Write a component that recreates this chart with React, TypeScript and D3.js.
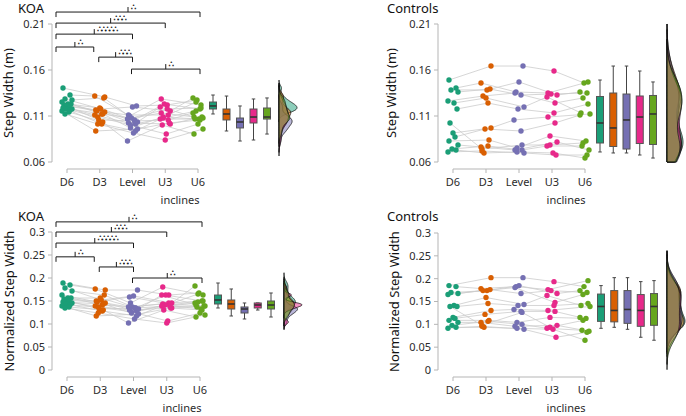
import React from "react";
import * as d3 from "d3";

const conditions = ["D6", "D3", "Level", "U3", "U6"];
const conditionColors = ["#1b9e77", "#d95f02", "#7570b3", "#e7298a", "#66a61e"];

// KOA group, step width (m); array index = subject
const koaWidthD6 = [0.1404, 0.1328, 0.1285, 0.1274, 0.1252, 0.123, 0.123, 0.122, 0.1209, 0.1198, 0.1187, 0.1176, 0.1176, 0.1165, 0.1154, 0.1143, 0.1122];
const koaWidthD3 = [0.1307, 0.1317, 0.1176, 0.1296, 0.1154, 0.1187, 0.1122, 0.1165, 0.1143, 0.1057, 0.1122, 0.1111, 0.1013, 0.1089, 0.0937, 0.1035, 0.1013];
const koaWidthLevel = [0.1209, 0.11, 0.1198, 0.1057, 0.1111, 0.1035, 0.1078, 0.1013, 0.1067, 0.1046, 0.097, 0.1024, 0.0937, 0.1002, 0.0959, 0.0828, 0.0915];
const koaWidthU3 = [0.122, 0.1285, 0.1154, 0.123, 0.1111, 0.1198, 0.1176, 0.1078, 0.1133, 0.1057, 0.1089, 0.1013, 0.1067, 0.0904, 0.1024, 0.1002, 0.0839];
const koaWidthU6 = [0.1274, 0.122, 0.1296, 0.1176, 0.1252, 0.1089, 0.1187, 0.1154, 0.1078, 0.1133, 0.1067, 0.1089, 0.1067, 0.1013, 0.1057, 0.0904, 0.0959];

// KOA group, normalized step width
const koaNormD6 = [0.1891, 0.1848, 0.1783, 0.1717, 0.163, 0.1565, 0.1565, 0.1543, 0.1522, 0.15, 0.1478, 0.1457, 0.1435, 0.1413, 0.1391, 0.137, 0.1348];
const koaNormD3 = [0.1739, 0.1761, 0.1522, 0.163, 0.1478, 0.1565, 0.1413, 0.15, 0.1457, 0.1326, 0.1435, 0.1391, 0.1283, 0.137, 0.1174, 0.1304, 0.1239];
const koaNormLevel = [0.1739, 0.1457, 0.1609, 0.1348, 0.1587, 0.1326, 0.137, 0.1283, 0.137, 0.1348, 0.1239, 0.1304, 0.1174, 0.1261, 0.1217, 0.1022, 0.1109];
const koaNormU3 = [0.163, 0.1804, 0.1457, 0.163, 0.1435, 0.163, 0.1457, 0.1413, 0.1435, 0.1391, 0.1413, 0.1348, 0.1391, 0.1065, 0.1348, 0.1304, 0.1022];
const koaNormU6 = [0.1674, 0.163, 0.1826, 0.15, 0.1652, 0.1413, 0.15, 0.1478, 0.1391, 0.1457, 0.1326, 0.1391, 0.137, 0.1239, 0.1304, 0.1152, 0.1196];

// Control group, step width (m)
const ctrlWidthD6 = [0.1491, 0.1404, 0.1383, 0.1361, 0.1263, 0.1241, 0.1176, 0.1024, 0.0915, 0.0872, 0.0828, 0.0785, 0.0741, 0.073, 0.0709];
const ctrlWidthD3 = [0.1643, 0.1459, 0.1383, 0.1393, 0.1317, 0.1296, 0.1241, 0.0741, 0.097, 0.0959, 0.0839, 0.0763, 0.0774, 0.0698, 0.072];
const ctrlWidthLevel = [0.1643, 0.1361, 0.147, 0.1328, 0.135, 0.1198, 0.1176, 0.0785, 0.1057, 0.0937, 0.0752, 0.073, 0.073, 0.0709, 0.0698];
const ctrlWidthU3 = [0.1589, 0.135, 0.1328, 0.1339, 0.1241, 0.1307, 0.1133, 0.0785, 0.1089, 0.1024, 0.0883, 0.0817, 0.0774, 0.0698, 0.0676];
const ctrlWidthU6 = [0.1459, 0.147, 0.1361, 0.135, 0.1296, 0.1133, 0.123, 0.0807, 0.1122, 0.1111, 0.0828, 0.073, 0.0774, 0.0643, 0.0676];

// Control group, normalized step width
const ctrlNormD6 = [0.1848, 0.1826, 0.1696, 0.1674, 0.1652, 0.1413, 0.1391, 0.1391, 0.1152, 0.113, 0.1087, 0.1043, 0.0978, 0.0935, 0.0913];
const ctrlNormD3 = [0.2022, 0.1783, 0.1739, 0.1761, 0.1739, 0.1587, 0.1457, 0.0978, 0.1304, 0.1217, 0.1087, 0.1043, 0.1065, 0.0935, 0.0957];
const ctrlNormLevel = [0.2022, 0.1826, 0.1848, 0.1674, 0.1804, 0.1435, 0.1413, 0.1261, 0.1326, 0.1283, 0.1043, 0.0957, 0.1, 0.0913, 0.0891];
const ctrlNormU3 = [0.1935, 0.1761, 0.1674, 0.1739, 0.1478, 0.163, 0.1413, 0.0935, 0.1304, 0.1283, 0.1152, 0.0978, 0.0913, 0.0891, 0.0717];
const ctrlNormU6 = [0.1826, 0.1957, 0.1739, 0.1696, 0.1652, 0.1413, 0.1457, 0.1087, 0.1391, 0.1152, 0.113, 0.0848, 0.087, 0.0652, 0.0826];

// Axis ticks
const widthTicks = [0.06, 0.11, 0.16, 0.21];
const widthTickLabels = ["0.06", "0.11", "0.16", "0.21"];
const normTicks = [0, 0.05, 0.1, 0.15, 0.2, 0.25, 0.3];
const normTickLabels = ["0", "0.05", "0.1", "0.15", "0.2", "0.25", "0.3"];

// Pairwise comparisons shown for the KOA group
const koaBracketPairs = [["D6", "U6"], ["D6", "U3"], ["D6", "Level"], ["D6", "D3"], ["D3", "Level"], ["Level", "U6"]];
const koaBracketLabels = ["∴", "∴∴∴", "∴∴∴∴∴", "∴", "∴∴∴", "∴"];
const koaWidthBracketY = [0.223, 0.211, 0.199, 0.185, 0.174, 0.161];
const koaNormBracketY = [0.322, 0.3, 0.276, 0.246, 0.224, 0.2];

// Horizontal jitter pattern for the dots (pixels)
const JITTER = [-4, 3, -2, 5, -5, 1, 4, -3, 0, 2, -4, 5, -1, 3, -5, 2, -2];
// Bracket end adjustments per condition (pixels)
const BRACKET_START: Record<string, number> = { D6: -11, D3: -1, Level: -1 };
const BRACKET_END: Record<string, number> = { D3: -6, Level: 0, U3: 0, U6: 2 };

const FONT = "'Noto Sans', 'Open Sans', sans-serif";
const AXIS_GREY = "#b5b5b5";
const TEXT_COL = "#2b2b2b";

type Layout = {
  yTop: number; yBottom: number; axisX: number; catL: number; catR: number; xAxisY: number;
  box0: number; boxStep: number; densBase: number; densW: number;
  titleX: number; titleY: number; yTitleX: number; tickLabelY: number; inclinesX: number; inclinesY: number;
};

type PanelCfg = {
  title: string; yLabel: string; series: number[][]; domain: [number, number];
  ticks: number[]; tickLabels: string[]; L: Layout;
  brackets?: { pairs: string[][]; labels: string[]; ys: number[] };
};

function kde(values: number[], domain: [number, number]) {
  const s = [...values].sort(d3.ascending);
  const sd = d3.deviation(s) as number;
  const iqr = (d3.quantile(s, 0.75) as number) - (d3.quantile(s, 0.25) as number);
  const bw = 0.9 * Math.min(sd, iqr / 1.34) * Math.pow(s.length, -0.2);
  const from = Math.max(domain[0], s[0] - 3 * bw);
  const to = Math.min(domain[1], s[s.length - 1] + 3 * bw);
  const n = 160;
  return d3.range(n + 1).map((i) => {
    const v = from + ((to - from) * i) / n;
    const d = d3.mean(s, (x) => Math.exp(-0.5 * ((v - x) / bw) ** 2) / Math.sqrt(2 * Math.PI)) as number;
    return [v, d / bw] as [number, number];
  });
}

function boxStats(values: number[]) {
  const s = [...values].sort(d3.ascending);
  const q1 = d3.quantile(s, 0.25) as number;
  const med = d3.quantile(s, 0.5) as number;
  const q3 = d3.quantile(s, 0.75) as number;
  const iqr = q3 - q1;
  const lo = d3.min(s.filter((v) => v >= q1 - 1.5 * iqr)) as number;
  const hi = d3.max(s.filter((v) => v <= q3 + 1.5 * iqr)) as number;
  return { q1, med, q3, lo, hi };
}

function Panel({ cfg }: { cfg: PanelCfg }) {
  const { series, domain, ticks, tickLabels, L } = cfg;
  const y = d3.scaleLinear().domain(domain).range([L.yBottom, L.yTop]);
  const x = d3.scalePoint<string>().domain(conditions).range([L.catL, L.catR]);
  const nSubj = series[0].length;
  const px = (k: number, i: number) => (x(conditions[k]) as number) + JITTER[(i + 3 * k) % JITTER.length];
  const line = d3.line();
  const subjectPaths = d3.range(nSubj).map((i) => line(series.map((s, k) => [px(k, i), y(s[i])]) as [number, number][]));

  const dens = series.map((s) => kde(s, domain));
  const maxD = d3.max(dens.flat(), (d) => d[1]) as number;
  const area = d3
    .area<[number, number]>()
    .y((d) => y(d[0]))
    .x0(L.densBase)
    .x1((d) => L.densBase + (d[1] / maxD) * L.densW)
    .curve(d3.curveBasis);

  const boxW = 7;
  const capW = 3.5;

  return (
    <g>
      {/* subject trajectories */}
      {subjectPaths.map((p, i) => (
        <path key={"l" + i} d={p as string} fill="none" stroke="#cccccc" strokeWidth={0.8} />
      ))}
      {/* subject dots */}
      {series.map((s, k) =>
        s.map((v, i) => <circle key={`d${k}-${i}`} cx={px(k, i)} cy={y(v)} r={2.7} fill={conditionColors[k]} />)
      )}
      {/* box plots */}
      {series.map((s, k) => {
        const b = boxStats(s);
        const cx = L.box0 + k * L.boxStep;
        return (
          <g key={"b" + k}>
            <line x1={cx} x2={cx} y1={y(b.hi)} y2={y(b.lo)} stroke="#444" strokeWidth={1} />
            <line x1={cx - capW / 2} x2={cx + capW / 2} y1={y(b.hi)} y2={y(b.hi)} stroke="#444" strokeWidth={1} />
            <line x1={cx - capW / 2} x2={cx + capW / 2} y1={y(b.lo)} y2={y(b.lo)} stroke="#444" strokeWidth={1} />
            <rect x={cx - boxW / 2} y={y(b.q3)} width={boxW} height={Math.max(0.5, y(b.q1) - y(b.q3))} fill={conditionColors[k]} stroke="#555" strokeWidth={1} />
            <line x1={cx - boxW / 2} x2={cx + boxW / 2} y1={y(b.med)} y2={y(b.med)} stroke="#333" strokeWidth={1.6} />
          </g>
        );
      })}
      {/* overlaid half densities */}
      {dens.map((d, k) => (
        <path key={"k" + k} d={area(d) as string} fill={conditionColors[k]} fillOpacity={0.5} stroke="#111" strokeWidth={0.8} />
      ))}
      {/* y axis */}
      <line x1={L.axisX} x2={L.axisX} y1={y(domain[0])} y2={y(domain[1])} stroke={AXIS_GREY} />
      {ticks.map((t, i) => (
        <g key={"t" + i}>
          <line x1={L.axisX - 4} x2={L.axisX} y1={y(t)} y2={y(t)} stroke={AXIS_GREY} />
          <text x={L.axisX - 7} y={y(t)} dy="0.35em" textAnchor="end" fontSize={11} fill={TEXT_COL}>
            {tickLabels[i]}
          </text>
        </g>
      ))}
      {/* x axis */}
      <line x1={L.catL} x2={L.catR} y1={L.xAxisY} y2={L.xAxisY} stroke={AXIS_GREY} />
      {conditions.map((c) => (
        <g key={"x" + c}>
          <line x1={x(c)} x2={x(c)} y1={L.xAxisY} y2={L.xAxisY + 4} stroke={AXIS_GREY} />
          <text x={x(c)} y={L.tickLabelY} textAnchor="middle" fontSize={11} fill={TEXT_COL}>
            {c}
          </text>
        </g>
      ))}
      <text x={L.inclinesX} y={L.inclinesY} textAnchor="middle" fontSize={11} fill={TEXT_COL}>
        inclines
      </text>
      <text transform={`translate(${L.yTitleX},${(L.yTop + L.yBottom) / 2}) rotate(-90)`} textAnchor="middle" fontSize={13} fill="#111">
        {cfg.yLabel}
      </text>
      <text x={L.titleX} y={L.titleY} fontSize={13} fill="#111">
        {cfg.title}
      </text>
      {/* significance brackets */}
      {cfg.brackets &&
        cfg.brackets.pairs.map(([a, b], i) => {
          const x1 = (x(a) as number) + (BRACKET_START[a] ?? 0);
          const x2 = (x(b) as number) + (BRACKET_END[b] ?? 0);
          const yb = y(cfg.brackets!.ys[i]);
          const xm = (x1 + x2) / 2;
          return (
            <g key={"s" + i}>
              <path d={`M${x1},${yb + 5}V${yb}H${x2}V${yb + 5}M${xm},${yb}V${yb - 5}`} fill="none" stroke="#1a1a1a" strokeWidth={1} />
              <text
                transform={`translate(${xm + 3},${yb - 2}) scale(0.5)`}
                fontSize={18}
                fontFamily="'DejaVu Sans', sans-serif"
                letterSpacing={-3.6}
                fill="#1a1a1a"
                stroke="#1a1a1a"
                strokeWidth={0.6}
              >
                {cfg.brackets!.labels[i]}
              </text>
            </g>
          );
        })}
    </g>
  );
}

const panels: PanelCfg[] = [
  {
    title: "KOA",
    yLabel: "Step Width (m)",
    series: [koaWidthD6, koaWidthD3, koaWidthLevel, koaWidthU3, koaWidthU6],
    domain: [0.06, 0.21],
    ticks: widthTicks,
    tickLabels: widthTickLabels,
    brackets: { pairs: koaBracketPairs, labels: koaBracketLabels, ys: koaWidthBracketY },
    L: { yTop: 24, yBottom: 162, axisX: 52, catL: 67, catR: 198, xAxisY: 169, box0: 213, boxStep: 13.5, densBase: 279, densW: 18, titleX: 18, titleY: 13, yTitleX: 13, tickLabelY: 186, inclinesX: 180, inclinesY: 204 },
  },
  {
    title: "KOA",
    yLabel: "Normalized Step Width",
    series: [koaNormD6, koaNormD3, koaNormLevel, koaNormU3, koaNormU6],
    domain: [0, 0.3],
    ticks: normTicks,
    tickLabels: normTickLabels,
    brackets: { pairs: koaBracketPairs, labels: koaBracketLabels, ys: koaNormBracketY },
    L: { yTop: 232, yBottom: 370, axisX: 52, catL: 67, catR: 200, xAxisY: 377, box0: 218, boxStep: 13.25, densBase: 284, densW: 18, titleX: 18, titleY: 221, yTitleX: 14, tickLabelY: 394, inclinesX: 182, inclinesY: 412 },
  },
  {
    title: "Controls",
    yLabel: "Step Width (m)",
    series: [ctrlWidthD6, ctrlWidthD3, ctrlWidthLevel, ctrlWidthU3, ctrlWidthU6],
    domain: [0.06, 0.21],
    ticks: widthTicks,
    tickLabels: widthTickLabels,
    L: { yTop: 24, yBottom: 162, axisX: 438, catL: 453, catR: 585, xAxisY: 169, box0: 600, boxStep: 13.25, densBase: 667, densW: 16, titleX: 387, titleY: 13, yTitleX: 396, tickLabelY: 186, inclinesX: 566, inclinesY: 204 },
  },
  {
    title: "Controls",
    yLabel: "Normalized Step Width",
    series: [ctrlNormD6, ctrlNormD3, ctrlNormLevel, ctrlNormU3, ctrlNormU6],
    domain: [0, 0.3],
    ticks: normTicks,
    tickLabels: normTickLabels,
    L: { yTop: 233, yBottom: 370, axisX: 438, catL: 453, catR: 585, xAxisY: 377, box0: 601, boxStep: 13.25, densBase: 667, densW: 18, titleX: 387, titleY: 221, yTitleX: 399, tickLabelY: 394, inclinesX: 566, inclinesY: 412 },
  },
];

export default function App() {
  return (
    <svg
      width={686}
      height={416}
      viewBox="0 0 686 416"
      style={{ position: "absolute", left: 0, top: 0, display: "block", background: "#fff" }}
      fontFamily={FONT}
    >
      <rect width={686} height={416} fill="#fff" />
      {panels.map((p, i) => (
        <Panel key={i} cfg={p} />
      ))}
    </svg>
  );
}
